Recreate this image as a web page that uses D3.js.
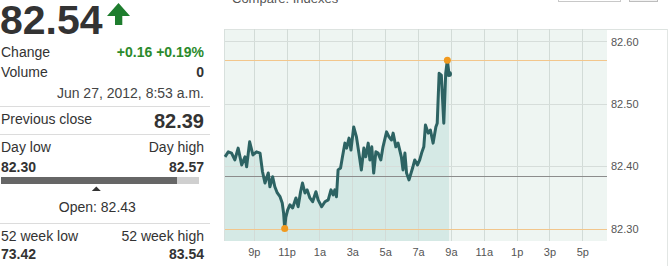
<!DOCTYPE html>
<html>
<head>
<meta charset="utf-8">
<script src="https://cdn.jsdelivr.net/npm/d3@7"></script>
<style>
  body { margin: 0; background: #fff; font-family: "Liberation Sans", Arial, sans-serif; }
  svg { display: block; }
</style>
</head>
<body>
<div id="chart"></div>
<script>
// intraday quotes (19:xx-23:xx are Jun 26, the rest Jun 27)
const times = ["19:15","19:27","19:39","19:51","20:03","20:16","20:28","20:34","20:45","20:57",
  "21:10","21:23","21:32","21:41","21:53","21:59","22:09","22:17","22:26","22:36",
  "22:44","22:49","22:53","22:57","23:04","23:12","23:22","23:34","23:42","23:51",
  "23:58","00:07","00:15","00:25","00:35","00:47","00:55","01:08","01:20","01:32",
  "01:42","01:50","01:56","02:02","02:08","02:17","02:24","02:33","02:39","02:48",
  "02:55","03:05","03:15","03:24","03:33","03:42","03:49","03:58","04:04","04:11",
  "04:18","04:26","04:34","04:44","04:52","05:05","05:14","05:23","05:29","05:39",
  "05:47","05:59","06:05","06:12","06:18","06:27","06:40","06:48","06:58","07:06",
  "07:13","07:21","07:27","07:37","07:45","07:55","08:05","08:10","08:17","08:25",
  "08:34","08:41","08:47","08:53"];
const prices = [82.415,82.423,82.421,82.410,82.429,82.402,82.415,82.399,82.439,82.418,
  82.423,82.421,82.391,82.373,82.389,82.367,82.383,82.367,82.357,82.351,
  82.341,82.325,82.300,82.318,82.330,82.338,82.333,82.349,82.335,82.359,
  82.373,82.357,82.362,82.349,82.343,82.359,82.346,82.335,82.343,82.346,
  82.362,82.354,82.362,82.351,82.394,82.397,82.415,82.437,82.429,82.445,
  82.426,82.463,82.447,82.421,82.394,82.429,82.415,82.437,82.410,82.431,
  82.389,82.423,82.421,82.410,82.431,82.455,82.447,82.442,82.453,82.431,
  82.437,82.415,82.394,82.421,82.389,82.378,82.397,82.410,82.402,82.410,
  82.421,82.431,82.466,82.453,82.458,82.437,82.463,82.469,82.549,82.546,
  82.469,82.549,82.570,82.548];

const yTicks = [82.30, 82.40, 82.50, 82.60];
const dayLow = 82.30, dayHigh = 82.57, openPrice = 82.43, lastValue = 82.54;
const prevCloseLine = 82.385;

const lastPrice = "82.54";
const infoRows = [
  { label: "Change", value: "+0.16 +0.19%", color: "#2b8a2b" },
  { label: "Volume", value: "0", color: "#333" }
];
const timestamp = "Jun 27, 2012, 8:53 a.m.";
const prevClose = "82.39";
const rangeLabels = ["Day low", "Day high"];
const rangeValues = ["82.30", "82.57"];
const openLabel = "Open: 82.43";
const weekLabels = ["52 week low", "52 week high"];
const weekValues = ["73.42", "83.54"];

const W = 672, H = 266;
const svg = d3.select("#chart").append("svg").attr("width", W).attr("height", H);

// ---------- left quote panel ----------
const panel = svg.append("g").attr("fill", "#333");
panel.append("text").attr("x", 0).attr("y", 33.5)
  .style("font-size", "41px").style("font-weight", "bold").text(lastPrice);
panel.append("path")
  .attr("d", "M118.5,3 L130,16 L122.3,16 L122.3,25 L115,25 L115,16 L107,16 Z")
  .attr("fill", "#1e7d2e");

infoRows.forEach((r, i) => {
  const yy = 57 + i * 20;
  panel.append("text").attr("x", 1).attr("y", yy).style("font-size", "14px").text(r.label);
  panel.append("text").attr("x", 204).attr("y", yy).attr("text-anchor", "end")
    .style("font-size", "14px").style("font-weight", "bold").attr("fill", r.color).text(r.value);
});
panel.append("text").attr("x", 204).attr("y", 98).attr("text-anchor", "end")
  .style("font-size", "14px").attr("fill", "#444").text(timestamp);

[106, 134, 223].forEach(yy => {
  svg.append("line").attr("x1", 0).attr("x2", 210).attr("y1", yy + 0.5).attr("y2", yy + 0.5)
    .attr("stroke", "#dcdcdc");
});

panel.append("text").attr("x", 1).attr("y", 124).style("font-size", "14px").text("Previous close");
panel.append("text").attr("x", 204).attr("y", 128).attr("text-anchor", "end")
  .style("font-size", "20px").style("font-weight", "bold").text(prevClose);

panel.append("text").attr("x", 1).attr("y", 152).style("font-size", "14px").text(rangeLabels[0]);
panel.append("text").attr("x", 204).attr("y", 152).attr("text-anchor", "end").style("font-size", "14px").text(rangeLabels[1]);
panel.append("text").attr("x", 1).attr("y", 172).style("font-size", "14px").style("font-weight", "bold").text(rangeValues[0]);
panel.append("text").attr("x", 204).attr("y", 172).attr("text-anchor", "end").style("font-size", "14px").style("font-weight", "bold").text(rangeValues[1]);

const rangeX = d3.scaleLinear().domain([dayLow, dayHigh]).range([1, 199]);
svg.append("rect").attr("x", rangeX(dayLow)).attr("y", 177).attr("width", rangeX(dayHigh) - rangeX(dayLow))
  .attr("height", 7).attr("fill", "#cfcfcf");
svg.append("rect").attr("x", rangeX(dayLow)).attr("y", 177).attr("width", rangeX(lastValue) - rangeX(dayLow))
  .attr("height", 7).attr("fill", "#666");
const ox = rangeX(openPrice);
svg.append("path").attr("d", `M${ox - 4.5},191 L${ox + 4.5},191 L${ox},186.5 Z`).attr("fill", "#333");
panel.append("text").attr("x", ox + 1).attr("y", 212).attr("text-anchor", "middle")
  .style("font-size", "14px").text(openLabel);

panel.append("text").attr("x", 1).attr("y", 241).style("font-size", "14px").text(weekLabels[0]);
panel.append("text").attr("x", 204).attr("y", 241).attr("text-anchor", "end").style("font-size", "14px").text(weekLabels[1]);
panel.append("text").attr("x", 1).attr("y", 259).style("font-size", "14px").style("font-weight", "bold").text(weekValues[0]);
panel.append("text").attr("x", 204).attr("y", 259).attr("text-anchor", "end").style("font-size", "14px").style("font-weight", "bold").text(weekValues[1]);

// ---------- top controls (cut off) ----------
svg.append("text").attr("x", 232).attr("y", 3).attr("fill", "#555").style("font-size", "13px").text("Compare: Indexes");
svg.append("rect").attr("x", 558.5).attr("y", -10).attr("width", 62).attr("height", 11.5)
  .attr("fill", "#fff").attr("stroke", "#c8c8c8");
svg.append("rect").attr("x", 629.5).attr("y", -10).attr("width", 28).attr("height", 11.5)
  .attr("fill", "#f2f2f2").attr("stroke", "#bdbdbd");

// ---------- chart ----------
const plotL = 225, plotR = 607, plotT = 29, plotB = 241;
const parseT = d3.timeParse("%Y-%m-%d %H:%M");
const data = times.map((t, i) => {
  const h = +t.slice(0, 2);
  return { date: parseT((h >= 19 ? "2012-06-26 " : "2012-06-27 ") + t), value: prices[i] };
});
const start = new Date(2012, 5, 26, 19, 15), end = new Date(2012, 5, 27, 18, 30);
const x = d3.scaleTime().domain([start, end]).range([plotL, plotR]);
const y = d3.scaleLinear().domain([82.28, 82.62]).range([plotB, plotT]);
const tickTimes = d3.timeHour.range(new Date(2012, 5, 26, 21), end, 2);
const fmt = d => (d.getHours() % 12 || 12) + (d.getHours() < 12 ? "a" : "p");

// frame
svg.append("line").attr("x1", plotL - 1).attr("x2", 668).attr("y1", plotT + 0.5).attr("y2", plotT + 0.5).attr("stroke", "#dde3e0");
svg.append("line").attr("x1", 667.5).attr("x2", 667.5).attr("y1", plotT).attr("y2", H).attr("stroke", "#e2e6e4");

svg.append("rect").attr("x", plotL).attr("y", plotT + 1).attr("width", plotR - plotL).attr("height", plotB - plotT - 1)
  .attr("fill", "#eef5f2");
svg.append("line").attr("x1", plotL - 0.5).attr("x2", plotL - 0.5).attr("y1", plotT).attr("y2", plotB).attr("stroke", "#d8e0dd");

const area = d3.area().x(d => x(d.date)).y0(plotB).y1(d => y(d.value));
svg.append("path").datum(data).attr("d", area).attr("fill", "#d5e9e5");

// grid
svg.append("g").selectAll("line").data(tickTimes).join("line")
  .attr("x1", d => Math.round(x(d)) + 0.5).attr("x2", d => Math.round(x(d)) + 0.5)
  .attr("y1", plotT).attr("y2", plotB).attr("stroke", "#d2dbd7");
svg.append("g").selectAll("line").data(yTicks).join("line")
  .attr("x1", plotL).attr("x2", plotR)
  .attr("y1", d => Math.round(y(d)) + 0.5).attr("y2", d => Math.round(y(d)) + 0.5)
  .attr("stroke", "#d6ddda");

// reference lines
svg.append("line").attr("x1", plotL).attr("x2", plotR)
  .attr("y1", Math.round(y(prevCloseLine)) + 0.5).attr("y2", Math.round(y(prevCloseLine)) + 0.5)
  .attr("stroke", "#8c8c8c");
[dayLow, dayHigh].forEach(v => {
  svg.append("line").attr("x1", plotL).attr("x2", plotR)
    .attr("y1", Math.round(y(v)) + 0.5).attr("y2", Math.round(y(v)) + 0.5)
    .attr("stroke", "#f2c68c");
});

// price line
const line = d3.line().x(d => x(d.date)).y(d => y(d.value));
svg.append("path").datum(data).attr("d", line).attr("fill", "none")
  .attr("stroke", "#2d6363").attr("stroke-width", 3).attr("stroke-linejoin", "round");

// high / low markers
const lowPt = data[d3.minIndex(data, d => d.value)];
const highPt = data[d3.maxIndex(data, d => d.value)];
[lowPt, highPt].forEach(d => {
  svg.append("circle").attr("cx", x(d.date)).attr("cy", y(d.value)).attr("r", 3.5).attr("fill", "#f19a1f");
});
const lastPt = data[data.length - 1];
svg.append("circle").attr("cx", x(lastPt.date)).attr("cy", y(lastPt.value)).attr("r", 3).attr("fill", "#2d6363");

// axes
const xAxis = svg.append("g").attr("transform", `translate(0,${plotB})`)
  .call(d3.axisBottom(x).tickValues(tickTimes).tickFormat(fmt).tickSize(0).tickPadding(7));
xAxis.select(".domain").remove();
xAxis.selectAll("text").attr("fill", "#555").style("font-size", "11px").style("font-family", "Liberation Sans, Arial, sans-serif");

const yAxis = svg.append("g").attr("transform", `translate(${plotR},0)`)
  .call(d3.axisRight(y).tickValues(yTicks).tickFormat(d3.format(".2f")).tickSize(0).tickPadding(4));
yAxis.select(".domain").remove();
yAxis.selectAll("text").attr("fill", "#555").style("font-size", "11px").style("font-family", "Liberation Sans, Arial, sans-serif");
</script>
</body>
</html>
